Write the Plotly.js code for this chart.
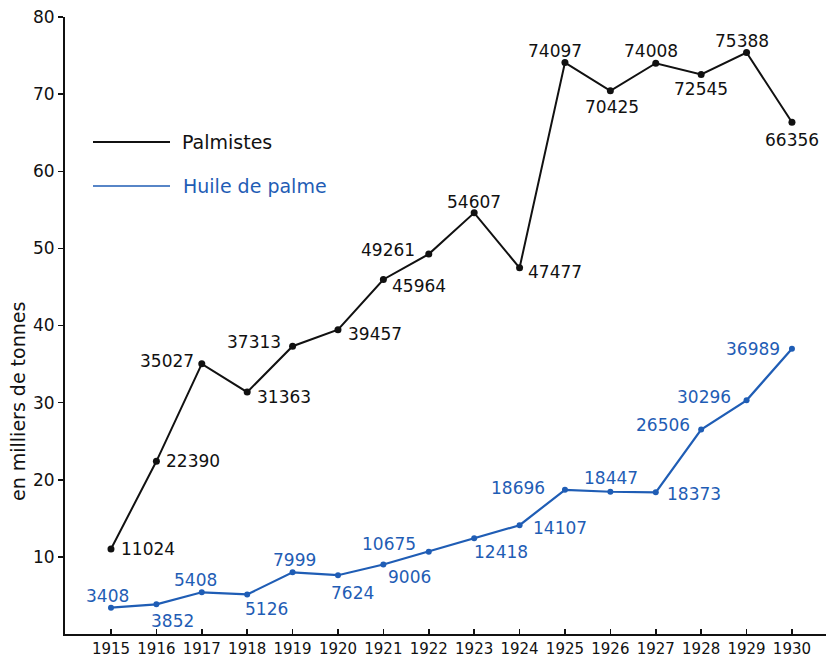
<!DOCTYPE html>
<html>
<head>
<meta charset="utf-8">
<script src="https://cdn.plot.ly/plotly-3.0.1.min.js"></script>
<style>html,body{margin:0;padding:0;background:#fff;}#chart{width:828px;height:662px;}</style>
</head>
<body>
<div id="chart"></div>
<script>
// ---- data ----
const years = [1915,1916,1917,1918,1919,1920,1921,1922,1923,1924,1925,1926,1927,1928,1929,1930];
const palmistes = [11024,22390,35027,31363,37313,39457,45964,49261,54607,47477,74097,70425,74008,72545,75388,66356];
const huile = [3408,3852,5408,5126,7999,7624,9006,10675,12418,14107,18696,18447,18373,26506,30296,36989];
const yTicks = [10,20,30,40,50,60,70,80];
const seriesNames = ["Palmistes","Huile de palme"];
const yTitle = "en milliers de tonnes";

// ---- label placement (positions only) ----
const palmPos = [
  ["left",8,0],["left",8,0],["right",-6,3],["left",8,-5],["right",-10,4],["left",8,-4],
  ["left",7,-6],["right",-12,4],["center",0,11],["left",6,-4],["center",-10,12],
  ["center",2,-16],["center",-5,12],["center",0,-14],["center",-5,12],["center",0,-18]
];
const huilePos = [
  ["center",-3,12],["center",16,-17],["center",-6,12],["center",19,-15],["center",2,12],
  ["center",15,-18],["center",26,-12],["center",-40,8],["center",27,-14],["left",11,-3],
  ["right",-18,2],["center",1,14],["left",9,-2],["right",-9,5],["right",-14,3],["right",-10,0]
];

const BLACK = "#111111";
const BLUE = "#1f5db5";
const FONT = "DejaVu Sans, Liberation Sans, sans-serif";

const toK = v => v/1000;

const traces = [
  {x: years, y: palmistes.map(toK), mode: "lines+markers", name: seriesNames[0],
   line: {color: BLACK, width: 2}, marker: {color: BLACK, size: 7}, showlegend: false},
  {x: years, y: huile.map(toK), mode: "lines+markers", name: seriesNames[1],
   line: {color: BLUE, width: 2.2}, marker: {color: BLUE, size: 6}, showlegend: false}
];

const annotations = [];
years.forEach((yr, i) => {
  annotations.push({x: yr, y: toK(palmistes[i]), text: String(palmistes[i]), showarrow: false,
    xanchor: palmPos[i][0], yanchor: "middle", xshift: palmPos[i][1], yshift: palmPos[i][2],
    font: {family: FONT, size: 17, color: BLACK}});
  annotations.push({x: yr, y: toK(huile[i]), text: String(huile[i]), showarrow: false,
    xanchor: huilePos[i][0], yanchor: "middle", xshift: huilePos[i][1], yshift: huilePos[i][2],
    font: {family: FONT, size: 17, color: BLUE}});
});

// legend (drawn manually)
annotations.push({xref: "paper", yref: "paper", x: (180-65)/761, y: (634-142)/617, text: seriesNames[0],
  showarrow: false, xanchor: "left", yanchor: "middle", font: {family: FONT, size: 19, color: BLACK}});
annotations.push({xref: "paper", yref: "paper", x: (181-65)/761, y: (634-186)/617, text: seriesNames[1],
  showarrow: false, xanchor: "left", yanchor: "middle", font: {family: FONT, size: 19, color: BLUE}});
// y axis title
annotations.push({xref: "paper", yref: "paper", x: (18-65)/761, y: (634-402)/617, text: yTitle,
  showarrow: false, textangle: -90, xanchor: "center", yanchor: "middle",
  font: {family: FONT, size: 19, color: BLACK}});

const shapes = [
  {type: "line", xref: "paper", yref: "paper", x0: (93-65)/761, x1: (170-65)/761,
   y0: (634-142)/617, y1: (634-142)/617, line: {color: BLACK, width: 2}},
  {type: "line", xref: "paper", yref: "paper", x0: (93-65)/761, x1: (170-65)/761,
   y0: (634-186)/617, y1: (634-186)/617, line: {color: BLUE, width: 1.5}}
];

const layout = {
  width: 828, height: 662,
  margin: {l: 65, r: 2, t: 17, b: 28},
  paper_bgcolor: "#ffffff", plot_bgcolor: "#ffffff",
  showlegend: false,
  xaxis: {range: [1913.987, 1930.75], tickvals: years, ticktext: years.map(String),
    showgrid: false, zeroline: false, showline: true, linecolor: BLACK, linewidth: 2,
    ticks: "inside", ticklen: 5, tickwidth: 1.5, tickcolor: BLACK,
    tickfont: {family: FONT, size: 15, color: BLACK}},
  yaxis: {range: [0, 80], tickvals: yTicks, ticktext: yTicks.map(String),
    showgrid: false, zeroline: false, showline: true, linecolor: BLACK, linewidth: 2,
    ticks: "outside", ticklen: 5, tickwidth: 1.5, tickcolor: BLACK,
    tickfont: {family: FONT, size: 17, color: BLACK}},
  annotations: annotations,
  shapes: shapes
};

Plotly.newPlot("chart", traces, layout, {displayModeBar: false, staticPlot: true});
</script>
</body>
</html>
